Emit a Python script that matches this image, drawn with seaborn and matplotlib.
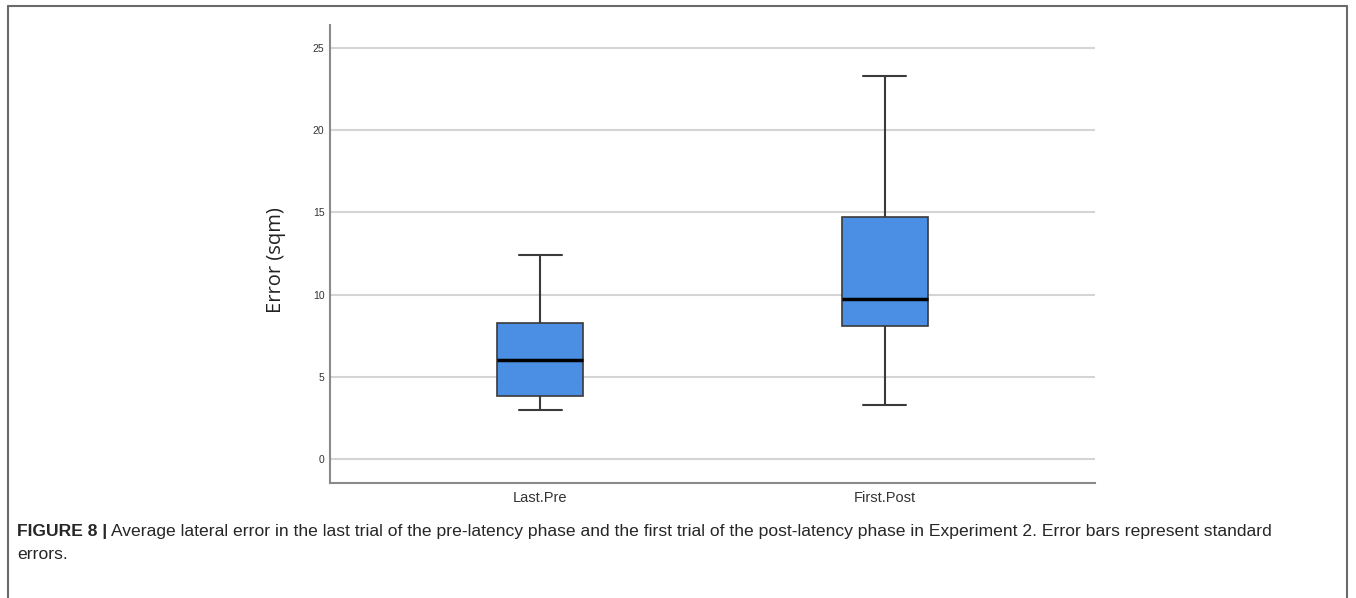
import seaborn as sns
import matplotlib.pyplot as plt
import pandas as pd
from matplotlib.lines import Line2D

# five-number summaries: low whisker, Q1, median, Q3, high whisker
phases = ["Last.Pre", "First.Post"]
last_pre = [2.98, 3.83, 6.02, 8.27, 12.41]
first_post = [3.28, 8.09, 9.73, 14.72, 23.3]
y_ticks = [0, 5, 10, 15, 20, 25]

df = pd.DataFrame({
    "phase": [phases[0]] * len(last_pre) + [phases[1]] * len(first_post),
    "error": last_pre + first_post,
})

sns.set_style("white")
plt.rcParams["font.family"] = ["Liberation Sans", "DejaVu Sans"]

fig = plt.figure(figsize=(13.56, 5.98), dpi=100)
ax = fig.add_axes([0.2434, 0.1923, 0.5641, 0.7659])

sns.boxplot(
    data=df, x="phase", y="error", ax=ax, width=0.25, whis=10,
    color="#4a8fe3", saturation=1,
    boxprops=dict(edgecolor="#3a3a3a", linewidth=1.2),
    whiskerprops=dict(color="#3a3a3a", linewidth=1.5),
    capprops=dict(color="#3a3a3a", linewidth=1.5),
    medianprops=dict(color="black", linewidth=2.5),
    showfliers=False,
)

ax.set_xlim(-0.609, 1.609)
ax.set_ylim(-1.46, 26.4)
ax.set_yticks(y_ticks)
ax.yaxis.grid(True, color="#d4d4d4", linewidth=1.5)
ax.set_axisbelow(True)
for side in ["top", "right"]:
    ax.spines[side].set_visible(False)
for side in ["left", "bottom"]:
    ax.spines[side].set_color("#8a8a8a")
    ax.spines[side].set_linewidth(1.5)
ax.tick_params(axis="both", length=0)
ax.tick_params(axis="y", labelsize=7.5, labelcolor="#333333", pad=4)
ax.tick_params(axis="x", labelsize=10.5, labelcolor="#333333", pad=6)
ax.set_xlabel("")
ax.set_ylabel("Error (sqm)", fontsize=14.5, family=["Open Sans", "DejaVu Sans"],
              color="#222222")
ax.yaxis.set_label_coords(-0.058, 0.487)

# page frame around the figure
frame = dict(color="#6a6a6a", linewidth=1.5, transform=fig.transFigure)
fig.add_artist(Line2D([0.0059, 0.9934], [0.990, 0.990], **frame))
fig.add_artist(Line2D([0.0059, 0.0059], [0.0, 0.990], **frame))
fig.add_artist(Line2D([0.9934, 0.9934], [0.0, 0.990], **frame))

caption_kw = dict(fontsize=12.6, color="#262626", va="baseline")
bold = fig.text(0.0125, 0.1045, "FIGURE 8 |", fontweight="bold", **caption_kw)
fig.canvas.draw()
bx = bold.get_window_extent().x1 / fig.bbox.width + 0.003
fig.text(bx, 0.1045,
         "Average lateral error in the last trial of the pre-latency phase and the first trial "
         "of the post-latency phase in Experiment 2. Error bars represent standard",
         **caption_kw)
fig.text(0.0125, 0.0645, "errors.", **caption_kw)

fig.savefig("out.png", dpi=100)
